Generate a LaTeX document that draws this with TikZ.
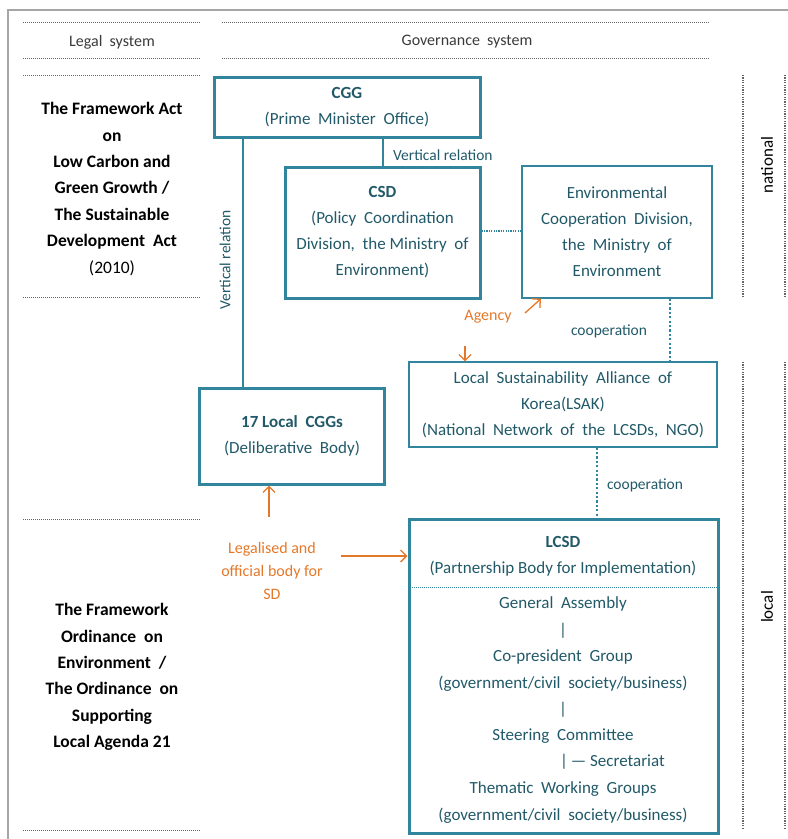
\documentclass[tikz,border=0pt]{standalone}
\usepackage{fontspec}
\setmainfont{Carlito}
\usetikzlibrary{arrows.meta,calc}
\definecolor{teal1}{HTML}{31859C}
\definecolor{tealtxt}{HTML}{215968}
\definecolor{orng}{HTML}{E4782A}
\definecolor{hdr}{HTML}{3A3A3A}
\tikzset{
  mainfont/.style={font=\fontsize{17}{26}\selectfont},
  thickbox/.style={draw=teal1, line width=3pt, rectangle, inner sep=0pt, align=center, text=tealtxt, mainfont},
  thinbox/.style={draw=teal1, line width=1.3pt, rectangle, inner sep=0pt, align=center, text=tealtxt, mainfont},
  sep/.style={draw=gray!80!black, line width=1pt, dash pattern=on 1pt off 1pt},
  vsep/.style={draw=gray!80!black, line width=1.2pt, dash pattern=on 1.2pt off 1.2pt},
  coop/.style={draw=teal1, line width=2.6pt, dash pattern=on 2.2pt off 2.2pt},
  lbl/.style={text=tealtxt, font=\fontsize{15.5}{18}\selectfont, inner sep=0pt},
  legal/.style={align=center, font=\fontsize{17.5}{26.4}\selectfont\bfseries, text=black, inner sep=0pt},
  orarrow/.style={draw=orng, line width=1.3pt, -{Straight Barb[length=6pt,width=12pt]}},
  ortext/.style={text=orng, align=center, font=\fontsize{16}{23}\selectfont, inner sep=0pt},
  lcsdtxt/.style={text=tealtxt, font=\fontsize{17}{26}\selectfont, inner sep=0pt, anchor=base},
}
\begin{document}
\begin{tikzpicture}[x=1pt,y=-1pt]
\useasboundingbox (0,0) rectangle (788,839);
% outer border
\draw[gray!70, line width=1.5pt] (8,839) -- (8,10) -- (788,10);
% header separators
\draw[sep] (23,22) -- (200,22);
\draw[sep] (23,58) -- (200,58);
\draw[sep] (222,22) -- (710,22);
\draw[sep] (222,58) -- (710,58);
\node[text=hdr, font=\fontsize{16}{18}\selectfont] (hl) at (112,42) {Legal\ \ system};
\node[text=hdr, font=\fontsize{16}{18}\selectfont] (hg) at (467,42) {Governance\ \ system};
% left separators
\draw[sep] (23,75) -- (200,75);
\draw[sep] (23,297) -- (200,297);
\draw[sep] (23,519) -- (200,519);
\draw[sep] (23,830) -- (200,830);
% right vertical separators
\draw[vsep] (743,75) -- (743,297);
\draw[vsep] (785,75) -- (785,297);
\draw[vsep] (743,362) -- (743,829);
\draw[vsep] (785,362) -- (785,829);
\node[rotate=90, text=black, font=\fontsize{17}{18}\selectfont] (nat) at (767,165) {national};
\node[rotate=90, text=black, font=\fontsize{17}{18}\selectfont] (loc) at (767,607) {local};
% legal texts
\node[legal] (law1) at (112,189) {The Framework Act\\on\\Low Carbon and\\Green Growth /\\The Sustainable\\Development\ \ Act\\{\mdseries(2010)}};
\node[legal] (law2) at (112,677) {The Framework\\Ordinance\ \ on\\Environment\ \ /\\The Ordinance\ \ on\\Supporting\\Local Agenda 21};
% boxes
\node[thickbox, minimum width=266pt, minimum height=60pt] (cgg) at (347,107) {\textbf{CGG}\\(Prime\ \ Minister\ \ Office)};
\node[thickbox, minimum width=195pt, minimum height=131pt] (csd) at (382.5,232.5) {\textbf{CSD}\\(Policy\ \ Coordination\\Division,\ \ the Ministry\ \ of\\Environment)};
\node[thinbox, minimum width=190pt, minimum height=132pt] (env) at (617,232) {Environmental\\Cooperation\ \ Division,\\the\ \ Ministry\ \ of\\Environment};
\node[thickbox, minimum width=185pt, minimum height=96pt] (lcgg) at (292,436) {\textbf{17 Local\ \ CGGs}\\(Deliberative\ \ Body)};
\node[thinbox, minimum width=308pt, minimum height=85pt] (lsak) at (563,404.5) {Local\ \ Sustainability\ \ Alliance\ \ of\\Korea(LSAK)\\(National\ \ Network\ \ of\ \ the\ \ LCSDs,\ \ NGO)};
\node[thickbox, minimum width=309pt, minimum height=314pt] (lcsd) at (563.5,676) {};
% LCSD contents
\draw[teal1, line width=1pt, dash pattern=on 1pt off 1pt] (lcsd.west |- 0,587) -- (lcsd.east |- 0,587);
\node[lcsdtxt] (t1) at (563,547) {\textbf{LCSD}};
\node[lcsdtxt] (t2) at (563,573) {(Partnership Body for Implementation)};
\node[lcsdtxt] (t3) at (563,608) {General\ \ Assembly};
\node[lcsdtxt] (t4) at (563,635) {|};
\node[lcsdtxt] (t5) at (563,661) {Co-president\ \ Group};
\node[lcsdtxt] (t6) at (563,688) {(government/civil\ \ society/business)};
\node[lcsdtxt] (t7) at (563,714) {|};
\node[lcsdtxt] (t8) at (563,740) {Steering\ \ Committee};
\node[lcsdtxt, anchor=base west] (t9) at (560,766) {|\,— Secretariat};
\node[lcsdtxt] (t10) at (563,793) {Thematic\ \ Working\ \ Groups};
\node[lcsdtxt] (t11) at (563,820) {(government/civil\ \ society/business)};
% vertical relations
\draw[teal1, line width=1.3pt] (cgg.south -| 383,0) -- (csd.north -| 383,0);
\node[lbl, anchor=west] (vr1) at (393,155) {Vertical relation};
\draw[teal1, line width=1.3pt] (cgg.south -| 243,0) -- (lcgg.north -| 243,0);
\node[lbl, rotate=90] (vr2) at (225,260) {Vertical relation};
% dotted links
\draw[teal1, line width=1.2pt, dash pattern=on 1.2pt off 1.2pt] (csd.east |- 0,231) -- (env.west |- 0,231);
\draw[coop] (env.south -| 670,0) -- (lsak.north -| 670,0);
\node[lbl] (c1) at (609,331) {cooperation};
\draw[coop] (lsak.south -| 597,0) -- (lcsd.north -| 597,0);
\node[lbl] (c2) at (645,485) {cooperation};
% orange annotations
\node[ortext] (ag) at (488,317) {Agency};
\coordinate (agtail) at (525,313);
\draw[orarrow] (agtail) -- (env.south west -| 541,0);
\coordinate (agtail2) at (465,346);
\draw[orarrow] (agtail2) -- (lsak.north -| 465,0);
\node[ortext] (leg) at (272,571) {Legalised and\\official body for\\SD};
\coordinate (legtop) at (269,517);
\draw[orarrow] (legtop) -- (lcgg.south -| 269,0);
\coordinate (legright) at (341,556);
\draw[orarrow] (legright) -- (lcsd.west |- 0,556);
\end{tikzpicture}
\end{document}
